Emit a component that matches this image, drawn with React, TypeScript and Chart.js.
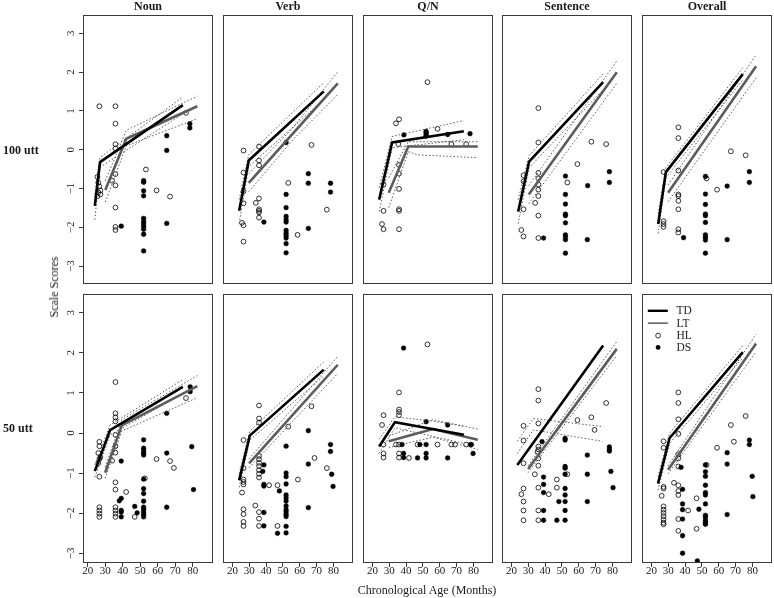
import React, { useEffect, useRef } from "react";
import { Chart, registerables } from "chart.js";

Chart.register(...registerables);

const FONT = '"Liberation Serif", "Times New Roman", serif';

const COL_TITLES = ["Noun", "Verb", "Q/N", "Sentence", "Overall"];
const ROW_LABELS = ["100 utt", "50 utt"];
const X_TITLE = "Chronological Age (Months)";
const Y_TITLE = "Scale Scores";
const X_TICKS = [20, 30, 40, 50, 60, 70, 80];
const Y_TICKS = [-3, -2, -1, 0, 1, 2, 3];
const X_RANGE = [17.25, 88.8];
const Y_RANGE = [-3.24, 3.25];
const LEGEND_LABELS = ["TD", "LT", "HL", "DS"];

type P = [number, number];

// ---------- 100 utt ----------
const noun100TD: P[] = [[24, -1.45], [27, -0.32], [74.3, 1.15]];
const noun100TDUp: P[] = [[24, -1.15], [27, -0.2], [74.3, 1.36]];
const noun100TDLo: P[] = [[24, -1.8], [27, -0.45], [74.3, 0.92]];
const noun100LT: P[] = [[30, -1.04], [42, 0.28], [82.6, 1.12]];
const noun100LTUp: P[] = [[30, -0.8], [42, 0.5], [82.6, 1.38]];
const noun100LTLo: P[] = [[30, -1.35], [42, 0.1], [82.6, 0.8]];
const noun100HL: P[] = [[26.6, 1.12], [35.8, 1.12], [35.8, 0.67], [35.8, 0.14], [35.8, 0.03], [35.8, -0.63], [35.8, -0.92], [33.9, -0.8], [53.2, -0.51], [59.3, -1.05], [67, -1.21], [76.1, 0.95], [35.8, -1.49], [35.8, -1.99], [35.8, -2.07], [25.5, -0.7], [26, -0.85], [26.6, -0.95], [27.2, -1.05], [26, -1.1], [27.2, -1.15], [25.5, -1.2]];
const noun100DS: P[] = [[65.1, 0.36], [65.1, -0.02], [78.3, 0.67], [78.3, 0.56], [51.9, -0.8], [51.9, -0.84], [51.9, -1.06], [51.9, -1.19], [51.9, -1.77], [51.9, -1.85], [51.9, -1.91], [51.9, -1.98], [51.9, -2.05], [51.9, -2.18], [51.9, -2.61], [39.1, -1.97], [65.1, -1.9]];

const verb100TD: P[] = [[24, -1.53], [29.7, -0.27], [74.3, 1.46]];
const verb100TDUp: P[] = [[24, -1.25], [29.7, -0.12], [74.3, 1.68]];
const verb100TDLo: P[] = [[24, -1.85], [29.7, -0.42], [74.3, 1.25]];
const verb100LT: P[] = [[29.7, -0.83], [82.6, 1.66]];
const verb100LTUp: P[] = [[29.7, -0.6], [56, 0.55], [82.6, 1.95]];
const verb100LTLo: P[] = [[29.7, -1.05], [56, 0.25], [82.6, 1.38]];
const verb100HL: P[] = [[26.6, -0.02], [35.8, 0.08], [35.8, -0.27], [35.8, -0.39], [26.6, -0.57], [67, 0.12], [53.2, -0.83], [26.6, -1.04], [26.6, -1.34], [33.9, -1.33], [35.8, -1.22], [35.8, -1.49], [35.8, -1.53], [35.8, -1.57], [35.8, -1.7], [25.7, -1.83], [26.6, -1.89], [26.6, -2.3], [58.7, -2.13], [76.1, -1.5]];
const verb100DS: P[] = [[51.9, 0.18], [65.1, -0.6], [65.1, -0.84], [78.3, -0.84], [78.3, -1.06], [51.9, -1.12], [51.9, -1.45], [51.9, -1.67], [51.9, -1.75], [51.9, -1.81], [51.9, -2.02], [51.9, -2.09], [51.9, -2.15], [51.9, -2.21], [51.9, -2.35], [51.9, -2.58], [38.7, -1.81], [65.1, -1.97]];

const qn100TD: P[] = [[24, -1.25], [31.7, 0.18], [74.3, 0.46]];
const qn100TDUp: P[] = [[24, -0.95], [31.7, 0.33], [74.3, 0.73]];
const qn100TDLo: P[] = [[24, -1.55], [31.7, 0.05], [74.3, 0.25]];
const qn100LT: P[] = [[29.7, -1.08], [41.3, 0.08], [82.6, 0.08]];
const qn100LTUp: P[] = [[29.7, -0.7], [41.3, 0.2], [82.6, 0.2]];
const qn100LTLo: P[] = [[29.7, -1.45], [41.3, -0.05], [47, -0.13], [82.6, -0.2]];
const qn100HL: P[] = [[52.7, 1.69], [34, 0.66], [35.8, 0.76], [58.7, 0.52], [66.9, 0.14], [75.7, 0.14], [35.4, 0.14], [35.8, -0.38], [35.8, -0.6], [35.8, -0.98], [26.6, -0.87], [26.6, -1.53], [35.8, -1.49], [35.8, -1.53], [25.7, -1.86], [26.6, -1.99], [35.8, -1.99]];
const qn100DS: P[] = [[38.7, 0.37], [51.9, 0.34], [51.9, 0.38], [51.9, 0.42], [51.9, 0.46], [64.7, 0.38], [78, 0.4]];

const sent100TD: P[] = [[24, -1.55], [30.5, -0.3], [74.5, 1.69]];
const sent100TDUp: P[] = [[24, -1.25], [30.5, -0.15], [74.5, 1.9]];
const sent100TDLo: P[] = [[24, -1.85], [30.5, -0.45], [74.5, 1.5]];
const sent100LT: P[] = [[30.3, -1.12], [82.6, 1.94]];
const sent100LTUp: P[] = [[30.3, -0.9], [82.6, 2.22]];
const sent100LTLo: P[] = [[30.3, -1.35], [82.6, 1.66]];
const sent100HL: P[] = [[36, 1.04], [36, 0.18], [67.5, 0.2], [76.3, 0.14], [59.2, -0.36], [36, -0.58], [27.2, -0.64], [27.2, -0.79], [36, -0.72], [53.2, -0.82], [36, -0.87], [36, -1.0], [36, -1.16], [34.1, -1.33], [36, -1.65], [27.2, -1.49], [25.9, -2.01], [27.2, -2.17], [36, -2.21]];
const sent100DS: P[] = [[52.1, -0.66], [65.3, -0.9], [78.2, -0.55], [78.2, -0.82], [52.1, -1.12], [52.1, -1.36], [52.1, -1.61], [52.1, -1.65], [52.1, -1.83], [52.1, -2.13], [52.1, -2.18], [52.1, -2.25], [52.1, -2.59], [39.1, -2.21], [65.1, -2.25]];

const all100TD: P[] = [[24, -1.86], [28.6, -0.56], [74.3, 1.89]];
const all100TDUp: P[] = [[24, -1.6], [28.6, -0.45], [74.3, 2.05]];
const all100TDLo: P[] = [[24, -2.1], [28.6, -0.7], [74.3, 1.75]];
const all100LT: P[] = [[29.9, -1.08], [82.2, 2.09]];
const all100LTUp: P[] = [[29.9, -0.88], [82.2, 2.37]];
const all100LTLo: P[] = [[29.9, -1.3], [82.2, 1.8]];
const all100HL: P[] = [[36, 0.56], [36, 0.29], [67.2, -0.04], [76, -0.14], [27.2, -0.56], [36, -0.52], [52.8, -0.72], [36, -1.12], [59, -1.0], [36, -1.16], [36, -1.28], [36, -1.49], [27.2, -1.79], [27.2, -1.86], [27.2, -1.93], [36, -1.99], [36, -2.07]];
const all100DS: P[] = [[52.1, -0.67], [65, -0.91], [78.2, -0.55], [78.2, -0.82], [52.1, -1.11], [52.1, -1.37], [52.1, -1.61], [52.1, -1.65], [52.1, -1.82], [52.1, -2.13], [52.1, -2.19], [52.1, -2.26], [52.1, -2.59], [39.1, -2.2], [65, -2.25]];

// ---------- 50 utt ----------
const noun50TD: P[] = [[24, -0.95], [32.7, 0.07], [74.3, 1.15]];
const noun50TDUp: P[] = [[24, -0.8], [32.7, 0.2], [74.3, 1.33]];
const noun50TDLo: P[] = [[24, -1.1], [32.7, -0.05], [74.3, 0.98]];
const noun50LT: P[] = [[29.9, -0.99], [39.4, 0.19], [82.6, 1.17]];
const noun50LTUp: P[] = [[29.9, -0.85], [39.4, 0.33], [82.6, 1.43]];
const noun50LTLo: P[] = [[29.9, -1.13], [39.4, 0.05], [82.6, 0.88]];
const noun50HL: P[] = [[35.8, 1.27], [35.8, 0.49], [35.8, 0.39], [35.8, 0.29], [35.8, -0.05], [35.8, -0.33], [35.8, -0.49], [26.6, -0.22], [26.6, -0.33], [26, -0.5], [26.6, -0.65], [26, -0.75], [27.2, -0.6], [33.9, -0.69], [59.3, -0.65], [67, -0.7], [76.1, 0.87], [26.6, -1.09], [69.2, -0.87], [35.8, -1.23], [35.8, -1.41], [41.9, -1.47], [26.6, -1.85], [26.6, -1.93], [26.6, -2.01], [26.6, -2.09], [35.8, -1.85], [35.8, -1.93], [35.8, -2.01], [35.8, -2.09], [46.8, -2.09], [52.6, -1.13]];
const noun50DS: P[] = [[51.9, -0.17], [51.9, -0.38], [51.9, -0.45], [51.9, -0.51], [51.9, -0.55], [65.1, 0.49], [65.1, -0.5], [78.5, 1.15], [78.5, 1.03], [79.4, -0.34], [39.1, -0.7], [51.9, -1.15], [51.9, -1.39], [51.9, -1.51], [51.9, -1.7], [51.9, -1.85], [51.9, -1.91], [51.9, -1.97], [51.9, -2.03], [51.9, -2.09], [38, -1.69], [39.1, -1.63], [39.1, -1.93], [39.1, -1.97], [39.1, -2.09], [46.8, -1.83], [48.2, -1.99], [65.1, -1.85], [80.4, -1.41]];

const verb50TD: P[] = [[24, -1.21], [30.3, -0.11], [74.3, 1.51]];
const verb50TDUp: P[] = [[24, -1.05], [30.3, 0.0], [74.3, 1.7]];
const verb50TDLo: P[] = [[24, -1.38], [30.3, -0.22], [74.3, 1.35]];
const verb50LT: P[] = [[29.9, -0.79], [82.6, 1.63]];
const verb50LTUp: P[] = [[29.9, -0.68], [82.6, 1.84]];
const verb50LTLo: P[] = [[29.9, -0.9], [82.6, 1.42]];
const verb50HL: P[] = [[35.8, 0.63], [35.8, 0.31], [35.8, 0.21], [26.6, -0.22], [67, 0.61], [53.2, 0.11], [68.8, -0.66], [35.8, -0.61], [35.8, -0.69], [35.8, -0.78], [35.8, -0.86], [35.8, -0.96], [35.8, -1.05], [35.8, -1.14], [26.6, -0.91], [26.6, -1.19], [26.6, -1.25], [26.6, -1.31], [25.7, -1.51], [26.6, -1.92], [26.6, -2.04], [26.6, -2.23], [26.6, -2.33], [33.6, -1.83], [35.8, -1.99], [35.8, -2.15], [35.8, -2.33], [41.8, -1.33], [46.8, -1.33], [46.8, -2.33], [58.9, -1.19], [76.1, -0.91]];
const verb50DS: P[] = [[65.1, 0.01], [51.9, -0.37], [78.3, -0.33], [78.3, -0.5], [65.1, -0.81], [38.7, -0.83], [38, -0.99], [38.7, -1.31], [38.7, -1.35], [51.9, -1.03], [51.9, -1.12], [51.9, -1.3], [47.9, -1.47], [51.9, -1.57], [51.9, -1.64], [51.9, -1.72], [51.9, -1.84], [51.9, -1.93], [51.9, -1.98], [51.9, -2.04], [51.9, -2.1], [51.9, -2.34], [51.9, -2.5], [79, -1.06], [79.8, -1.36], [65.1, -1.88], [38.7, -2.0], [38.7, -2.33], [46.8, -2.51]];

const qn50TD: P[] = [[24, -0.38], [33.4, 0.22], [74.3, -0.09]];
const qn50TDUp: P[] = [[24, -0.2], [33.4, 0.35], [55, 0.25], [74.3, 0.12]];
const qn50TDLo: P[] = [[24, -0.55], [33.4, 0.08], [55, -0.12], [74.3, -0.3]];
const qn50LT: P[] = [[29.7, -0.25], [55.9, 0.05], [82.6, -0.21]];
const qn50LTUp: P[] = [[29.7, -0.12], [55.9, 0.28], [82.6, 0.05]];
const qn50LTLo: P[] = [[29.7, -0.4], [55.9, -0.15], [82.6, -0.45]];
const qn50HL: P[] = [[52.7, 2.13], [35.8, 0.95], [35.8, 0.53], [35.8, 0.47], [35.8, 0.39], [26.6, 0.39], [25.7, 0.15], [26.6, -0.33], [26.6, -0.55], [26.6, -0.65], [34, -0.33], [35.8, -0.33], [35.8, -0.55], [35.8, -0.65], [46.8, -0.33], [41.7, -0.66], [58.7, -0.33], [66.9, -0.33], [69.1, -0.33], [75.7, -0.33]];
const qn50DS: P[] = [[38.5, 2.04], [51.9, 0.23], [64.7, 0.15], [37.6, -0.33], [48.2, -0.33], [51.9, -0.33], [38.5, -0.55], [38.5, -0.65], [46.8, -0.66], [51.9, -0.55], [51.9, -0.66], [64.7, -0.66], [78.2, -0.33], [78.8, -0.33], [79.8, -0.55]];

const sent50TD: P[] = [[23.5, -0.83], [74.5, 2.1]];
const sent50TDUp: P[] = [[23.5, -0.25], [33, 0.31], [74.5, 0.11]];
const sent50TDLo: P[] = [[23.5, -0.55], [33, 0.03], [74, -0.25]];
const sent50LT: P[] = [[29.9, -0.93], [82.6, 2.02]];
const sent50LTUp: P[] = [[29.9, -0.85], [82.6, 2.2]];
const sent50LTLo: P[] = [[29.9, -1.02], [82.6, 1.86]];
const sent50HL: P[] = [[36, 1.03], [36, 0.75], [76.3, 0.69], [67.5, 0.34], [59.2, 0.27], [69.4, 0.03], [27.2, 0.13], [36, 0.19], [27.2, -0.23], [36, -0.38], [36, -0.45], [36, -0.67], [35.5, -0.51], [27.2, -0.79], [36, -0.85], [33.9, -1.06], [27.2, -1.41], [25.9, -1.55], [27.2, -1.73], [27.2, -1.95], [27.2, -2.19], [36, -1.39], [36, -1.95], [36, -2.19], [42.2, -1.55], [47, -1.19], [47, -1.39], [53.2, -1.06]];
const sent50DS: P[] = [[38.2, -0.26], [51.9, -0.18], [51.9, -0.22], [65.1, -0.59], [78.2, -0.39], [78.2, -0.45], [78.2, -0.49], [51.9, -0.87], [51.9, -0.91], [51.9, -1.06], [65.1, -1.06], [39.1, -1.13], [39.1, -1.31], [39.1, -1.51], [51.9, -1.41], [51.9, -1.57], [48.2, -1.73], [51.9, -1.73], [65.1, -1.73], [51.9, -1.95], [51.9, -2.19], [39.1, -1.95], [39.1, -2.19], [47, -2.19], [79.1, -0.99], [80.4, -1.39]];

const all50TD: P[] = [[23.9, -1.29], [30.8, -0.17], [74.3, 1.94]];
const all50TDUp: P[] = [[23.9, -1.12], [30.8, -0.05], [74.3, 2.1]];
const all50TDLo: P[] = [[23.9, -1.45], [30.8, -0.3], [74.3, 1.8]];
const all50LT: P[] = [[29.9, -0.95], [82.2, 2.15]];
const all50LTUp: P[] = [[29.9, -0.85], [82.2, 2.38]];
const all50LTLo: P[] = [[29.9, -1.05], [82.2, 1.95]];
const all50HL: P[] = [[36, 0.95], [36, 0.69], [36, 0.29], [36, -0.07], [76, 0.37], [67.2, 0.15], [69, -0.26], [59, -0.41], [27.2, -0.25], [27.2, -0.41], [36, -0.57], [36, -0.67], [36, -0.87], [33.4, -1.27], [36, -1.33], [36, -1.47], [36, -1.57], [27.2, -1.37], [27.2, -1.41], [26.1, -1.59], [27.2, -1.85], [27.2, -1.93], [27.2, -2.01], [27.2, -2.09], [27.2, -2.17], [27.2, -2.25], [27.2, -2.29], [36, -2.16], [36, -2.45], [41.8, -1.95], [46.8, -1.65], [46.8, -2.4], [52.8, -0.83]];
const all50DS: P[] = [[65, -0.53], [78.2, -0.22], [78.2, -0.33], [65, -0.81], [65, -2.05], [52.1, -0.83], [52.1, -1.0], [52.1, -1.11], [52.1, -1.33], [52.1, -1.51], [52.1, -1.57], [52.1, -1.79], [52.1, -2.07], [52.1, -2.13], [52.1, -2.2], [52.1, -2.25], [52.1, -2.29], [37.6, -0.89], [38.5, -1.43], [38.5, -1.79], [38.5, -1.93], [38.5, -2.16], [38.5, -2.57], [38.5, -3.0], [47.3, -3.19], [48.2, -1.92], [79.9, -1.11], [80.3, -1.61]];

interface PanelData { td: P[]; tdUp: P[]; tdLo: P[]; lt: P[]; ltUp: P[]; ltLo: P[]; hl: P[]; ds: P[]; }

const PANELS: PanelData[] = [
  { td: noun100TD, tdUp: noun100TDUp, tdLo: noun100TDLo, lt: noun100LT, ltUp: noun100LTUp, ltLo: noun100LTLo, hl: noun100HL, ds: noun100DS },
  { td: verb100TD, tdUp: verb100TDUp, tdLo: verb100TDLo, lt: verb100LT, ltUp: verb100LTUp, ltLo: verb100LTLo, hl: verb100HL, ds: verb100DS },
  { td: qn100TD, tdUp: qn100TDUp, tdLo: qn100TDLo, lt: qn100LT, ltUp: qn100LTUp, ltLo: qn100LTLo, hl: qn100HL, ds: qn100DS },
  { td: sent100TD, tdUp: sent100TDUp, tdLo: sent100TDLo, lt: sent100LT, ltUp: sent100LTUp, ltLo: sent100LTLo, hl: sent100HL, ds: sent100DS },
  { td: all100TD, tdUp: all100TDUp, tdLo: all100TDLo, lt: all100LT, ltUp: all100LTUp, ltLo: all100LTLo, hl: all100HL, ds: all100DS },
  { td: noun50TD, tdUp: noun50TDUp, tdLo: noun50TDLo, lt: noun50LT, ltUp: noun50LTUp, ltLo: noun50LTLo, hl: noun50HL, ds: noun50DS },
  { td: verb50TD, tdUp: verb50TDUp, tdLo: verb50TDLo, lt: verb50LT, ltUp: verb50LTUp, ltLo: verb50LTLo, hl: verb50HL, ds: verb50DS },
  { td: qn50TD, tdUp: qn50TDUp, tdLo: qn50TDLo, lt: qn50LT, ltUp: qn50LTUp, ltLo: qn50LTLo, hl: qn50HL, ds: qn50DS },
  { td: sent50TD, tdUp: sent50TDUp, tdLo: sent50TDLo, lt: sent50LT, ltUp: sent50LTUp, ltLo: sent50LTLo, hl: sent50HL, ds: sent50DS },
  { td: all50TD, tdUp: all50TDUp, tdLo: all50TDLo, lt: all50LT, ltUp: all50LTUp, ltLo: all50LTLo, hl: all50HL, ds: all50DS },
];

// ---------- layout (page pixels) ----------
const PANEL_LEFT = [83, 223, 363, 502, 642];
const PANEL_TOP = [15, 294];
const PANEL_W = 130;
const PANEL_H = 269;
const Y_AXIS_W = 26;
const X_AXIS_H = 24;

const TD_COLOR = "#000000";
const LT_COLOR = "#5c5c5c";
const BAND_COLOR = "#4a4a4a";
const BOX_COLOR = "#3a3a3a";
const TEXT_COLOR = "#1a1a1a";
const PT_R = 2.4;

const legendPlugin = {
  id: "insetLegend",
  afterDraw(chart: any, _args: any, opts: any) {
    if (!opts || !opts.show) return;
    const { ctx, chartArea: a } = chart;
    const x0 = a.left;
    const y0 = a.top;
    const rowY = [12, 24.3, 36.8, 48.6];
    ctx.save();
    ctx.font = `11.5px ${FONT}`;
    ctx.textBaseline = "middle";
    ctx.fillStyle = TEXT_COLOR;
    LEGEND_LABELS.forEach((lab, i) => {
      const y = y0 + rowY[i];
      if (i === 0 || i === 1) {
        ctx.beginPath();
        ctx.strokeStyle = "#000";
        ctx.lineWidth = i === 0 ? 2.4 : 1;
        ctx.moveTo(x0 + 1, y);
        ctx.lineTo(x0 + 21, y);
        ctx.stroke();
      } else {
        ctx.beginPath();
        ctx.arc(x0 + 11.3, y, PT_R, 0, Math.PI * 2);
        if (i === 3) {
          ctx.fillStyle = "#000";
          ctx.fill();
        } else {
          ctx.strokeStyle = "#000";
          ctx.lineWidth = 0.8;
          ctx.stroke();
        }
      }
      ctx.fillStyle = TEXT_COLOR;
      ctx.fillText(lab, x0 + 29.7, y + 0.5);
    });
    ctx.restore();
  },
};

function toXY(arr: P[]) {
  return arr.map(([x, y]) => ({ x, y }));
}

function band(arr: P[]) {
  return {
    type: "line" as const,
    label: "band",
    data: toXY(arr),
    borderColor: BAND_COLOR,
    borderWidth: 0.9,
    borderDash: [1.5, 2],
    pointRadius: 0,
    fill: false,
    tension: 0,
  };
}

function Panel({ r, c }: { r: number; c: number }) {
  const ref = useRef<HTMLCanvasElement>(null);
  const showY = c === 0;
  const showX = r === 1;
  const w = PANEL_W + (showY ? Y_AXIS_W : 0);
  const h = PANEL_H + (showX ? X_AXIS_H : 0);
  const left = PANEL_LEFT[c] - (showY ? Y_AXIS_W : 0);
  const top = PANEL_TOP[r];

  useEffect(() => {
    const p = PANELS[r * 5 + c];
    const chart = new Chart(ref.current as HTMLCanvasElement, {
      type: "scatter",
      data: {
        datasets: [
          { type: "line", label: "TD", data: toXY(p.td), borderColor: TD_COLOR, borderWidth: 2.6, pointRadius: 0, tension: 0 },
          { type: "line", label: "LT", data: toXY(p.lt), borderColor: LT_COLOR, borderWidth: 2.6, pointRadius: 0, tension: 0 },
          band(p.tdUp),
          band(p.tdLo),
          band(p.ltUp),
          band(p.ltLo),
          { label: "HL", data: toXY(p.hl), pointStyle: "circle", pointRadius: PT_R, pointBackgroundColor: "rgba(0,0,0,0)", pointBorderColor: "#000", pointBorderWidth: 0.8 },
          { label: "DS", data: toXY(p.ds), pointStyle: "circle", pointRadius: PT_R, pointBackgroundColor: "#000", pointBorderColor: "#000", pointBorderWidth: 0.4 },
        ] as any,
      },
      options: {
        animation: false,
        responsive: false,
        maintainAspectRatio: false,
        layout: { padding: 0 },
        events: [],
        plugins: {
          legend: { display: false },
          tooltip: { enabled: false },
          insetLegend: { show: r === 1 && c === 4 },
        } as any,
        scales: {
          x: {
            type: "linear",
            min: X_RANGE[0],
            max: X_RANGE[1],
            display: showX,
            afterBuildTicks: (s: any) => {
              s.ticks = X_TICKS.map((v) => ({ value: v }));
            },
            afterFit: (s: any) => {
              if (showX) s.height = X_AXIS_H;
            },
            grid: { drawOnChartArea: false, drawTicks: true, tickLength: 4, color: BOX_COLOR, tickColor: BOX_COLOR },
            border: { display: false },
            ticks: { color: TEXT_COLOR, font: { size: 11, family: FONT }, padding: -2, maxRotation: 0, autoSkip: false },
          },
          y: {
            type: "linear",
            min: Y_RANGE[0],
            max: Y_RANGE[1],
            display: showY,
            afterBuildTicks: (s: any) => {
              s.ticks = Y_TICKS.map((v) => ({ value: v }));
            },
            afterFit: (s: any) => {
              if (showY) s.width = Y_AXIS_W;
            },
            grid: { drawOnChartArea: false, drawTicks: true, tickLength: 4, color: BOX_COLOR, tickColor: BOX_COLOR },
            border: { display: false },
            ticks: {
              color: TEXT_COLOR,
              font: { size: 11, family: FONT },
              padding: 2,
              minRotation: 90,
              maxRotation: 90,
              crossAlign: "center",
              autoSkip: false,
              callback: (v: any) => String(v).replace("-", "\u2212"),
            },
          },
        } as any,
      },
      plugins: [legendPlugin],
    });
    return () => chart.destroy();
  }, [r, c]);

  return (
    <canvas
      ref={ref}
      width={w}
      height={h}
      style={{ position: "absolute", left, top, width: w, height: h }}
    />
  );
}

export default function App() {
  const cells: React.ReactNode[] = [];
  const frames: React.ReactNode[] = [];
  for (let r = 0; r < 2; r++)
    for (let c = 0; c < 5; c++) {
      cells.push(<Panel key={`p${r}-${c}`} r={r} c={c} />);
      frames.push(
        <div
          key={`f${r}-${c}`}
          style={{
            position: "absolute",
            left: PANEL_LEFT[c],
            top: PANEL_TOP[r],
            width: PANEL_W,
            height: PANEL_H,
            border: `1px solid ${BOX_COLOR}`,
            boxSizing: "border-box",
            pointerEvents: "none",
          }}
        />
      );
    }
  const textBase: React.CSSProperties = {
    position: "absolute",
    color: TEXT_COLOR,
    whiteSpace: "nowrap",
    willChange: "transform",
  };
  return (
    <div style={{ position: "absolute", left: 0, top: 0, width: 774, height: 598, background: "#fff", overflow: "hidden" }}>
      {COL_TITLES.map((t, i) => (
        <div key={t} style={{ ...textBase, left: PANEL_LEFT[i], top: 0, width: PANEL_W, textAlign: "center", font: `bold 12px ${FONT}`, lineHeight: "13px" }}>
          {t}
        </div>
      ))}
      {ROW_LABELS.map((t, i) => (
        <div key={t} style={{ ...textBase, left: 3, top: (i === 0 ? 150 : 428) - 7, font: `bold 12px ${FONT}`, lineHeight: "14px" }}>
          {t}
        </div>
      ))}
      <div
        style={{
          ...textBase,
          left: 54,
          top: 287,
          transform: "translate(-50%, -50%) rotate(-90deg)",
          font: `12px ${FONT}`,
          lineHeight: "14px",
        }}
      >
        {Y_TITLE}
      </div>
      <div
        style={{
          ...textBase,
          left: 427,
          top: 590,
          transform: "translate(-50%, -50%)",
          font: `12px ${FONT}`,
          lineHeight: "14px",
        }}
      >
        {X_TITLE}
      </div>
      {cells}
      {frames}
    </div>
  );
}
